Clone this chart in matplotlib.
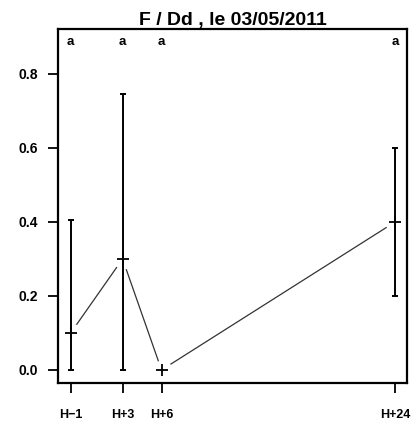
import numpy as np
import matplotlib
matplotlib.use("Agg")
from matplotlib import pyplot as plt

plt.rcParams['font.family'] = ['Liberation Sans', 'DejaVu Sans']

# sampling times (hours) and their labels
hours = [-1, 3, 6, 24]
hour_labels = ["H\u22121", "H+3", "H+6", "H+24"]

# mean value and interval bounds per time
means = [0.1, 0.3, 0.0, 0.4]
lower = [0.0, 0.0, 0.0, 0.2]
upper = [0.405, 0.745, 0.0, 0.6]

# significance group letters
groups = ["a", "a", "a", "a"]

title = "F / Dd , le 03/05/2011"

fig = plt.figure(figsize=(4.14, 4.26), dpi=100)
ax = fig.add_axes([0.1394, 0.1002, 0.8438, 0.8306])

x = np.array(hours, dtype=float)
y = np.array(means)
lo = y - np.array(lower)
hi = np.array(upper) - y

# "b" style line: segments with a gap around each point
ax.plot(x, y, color="#333333", lw=0.9, zorder=1)
ax.plot(x, y, ls="none", marker="o", ms=14.5, mfc="white", mec="none", zorder=2)

has_bar = (lo + hi) > 0
ax.errorbar(x[has_bar], y[has_bar], yerr=[lo[has_bar], hi[has_bar]], fmt="none",
            ecolor="black", elinewidth=1.4, capsize=2.3, capthick=1.4, zorder=3)
ax.plot(x, y, ls="none", marker="+", ms=9, mew=1.3, color="black", zorder=4)

for xi, g in zip(hours, groups):
    ax.text(xi, 0.885, g, ha="center", va="center", fontsize=9.5, fontweight="bold")

ax.set_xlim(-2.0, 24.92)
ax.set_ylim(-0.036, 0.92)

ax.set_yticks([0.0, 0.2, 0.4, 0.6, 0.8])
ax.set_yticklabels(["0.0", "0.2", "0.4", "0.6", "0.8"], fontsize=10, fontweight="bold")
ax.set_xticks(hours)
ax.set_xticklabels(hour_labels, fontsize=9, fontweight="bold")

ax.tick_params(axis="y", length=7.2, width=1.3, pad=7)
ax.tick_params(axis="x", length=7, width=1.3, pad=11.5)

for s in ax.spines.values():
    s.set_linewidth(1.6)

ax.set_title(title, fontsize=14, fontweight="bold", pad=3.5)

fig.savefig("out.png", dpi=100)
